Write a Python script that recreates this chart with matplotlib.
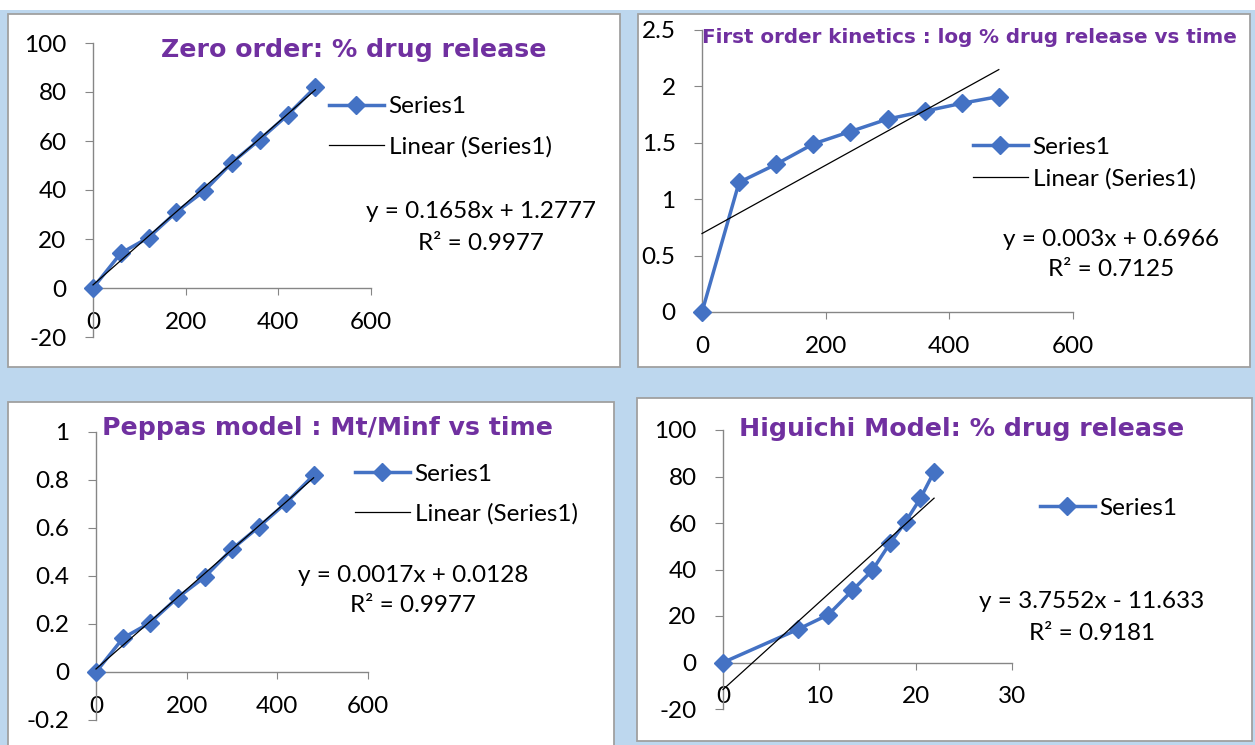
import matplotlib
matplotlib.use("Agg")
import matplotlib.pyplot as plt
from matplotlib.patches import Rectangle
import numpy as np

# data
time_min = [0, 60, 120, 180, 240, 300, 360, 420, 480]
pct_release = [0, 14.2, 20.6, 31, 39.6, 51.2, 60.6, 70.6, 82]
log_pct_release = [0, 1.15, 1.31, 1.49, 1.60, 1.71, 1.78, 1.85, 1.91]
mt_minf = [0, 0.142, 0.206, 0.31, 0.396, 0.512, 0.606, 0.706, 0.82]
sqrt_time = [0, 7.75, 10.95, 13.42, 15.49, 17.32, 18.97, 20.49, 21.91]

eq_text = ["y = 0.1658x + 1.2777", "y = 0.003x + 0.6966",
           "y = 0.0017x + 0.0128", "y = 3.7552x - 11.633"]
r2_text = ["R² = 0.9977", "R² = 0.7125", "R² = 0.9977", "R² = 0.9181"]
titles = ["Zero order: % drug release",
          "First order kinetics : log % drug release vs time",
          "Peppas model : Mt/Minf vs time",
          "Higuichi Model: % drug release"]

W, H = 1255, 745
BLUE = "#4472C4"
PURPLE = "#7030A0"
AXC = "#868686"
LBL = "Lato"
FS = 17.5

fig = plt.figure(figsize=(W / 100, H / 100), dpi=100, facecolor="#BDD7EE")


def fx(x):
    return x / W


def fy(y):
    return 1 - y / H


# white strip at the top and the four white panels
fig.add_artist(Rectangle((0, fy(10)), 1, 10 / H, transform=fig.transFigure,
                         facecolor="white", edgecolor="none", zorder=-2))
for (x0, y0, x1, y1) in [(8, 14, 620, 367), (638, 14, 1250, 367),
                         (8, 402, 614, 752), (637, 398, 1252, 741)]:
    fig.add_artist(Rectangle((fx(x0), fy(y1)), (x1 - x0) / W, (y1 - y0) / H,
                             transform=fig.transFigure, facecolor="white",
                             edgecolor="#A0A0A0", lw=1.3, zorder=-1))


def panel(box, x, y, xlim, ylim, xticks, yticks, title, title_pos, title_size,
          leg_pos, leg_sp, eq_pos, eq, r2, show_trend_legend=True):
    x0, x1, yt, yb = box
    ax = fig.add_axes([fx(x0), fy(yb), (x1 - x0) / W, (yb - yt) / H])
    ax.patch.set_alpha(0)
    ax.set_xlim(*xlim)
    ax.set_ylim(*ylim)
    for s in ["top", "right"]:
        ax.spines[s].set_visible(False)
    ax.spines["bottom"].set_position(("data", 0))
    for s in ["left", "bottom"]:
        ax.spines[s].set_color(AXC)
        ax.spines[s].set_linewidth(1)
    ax.set_xticks(xticks)
    ax.set_yticks(yticks)
    ax.set_xticklabels([f"{v:g}" for v in xticks], fontfamily=LBL, fontsize=FS)
    ax.set_yticklabels([f"{v:g}" for v in yticks], fontfamily=LBL, fontsize=FS)
    ax.tick_params(axis="x", direction="out", length=5, color=AXC, pad=12)
    ax.tick_params(axis="y", direction="out", length=6, color=AXC, pad=13)

    line, = ax.plot(x, y, color=BLUE, lw=2.5, marker="D", ms=9,
                    mec=BLUE, mfc=BLUE, clip_on=False, zorder=3, label="Series1")
    k, b = np.polyfit(x, y, 1)
    xs = np.array([x[0], x[-1]])
    trend, = ax.plot(xs, k * xs + b, color="black", lw=0.9, clip_on=False,
                     zorder=4, label="Linear (Series1)")

    handles = [line, trend] if show_trend_legend else [line]
    ax.legend(handles=handles, loc="center left",
              bbox_to_anchor=(fx(leg_pos[0]), fy(leg_pos[1])),
              bbox_transform=fig.transFigure, frameon=False, borderpad=0,
              borderaxespad=0, handlelength=2.25, handletextpad=0.2,
              labelspacing=leg_sp, prop={"family": LBL, "size": FS})

    fig.text(fx(title_pos[0]), fy(title_pos[1]), title, ha="center",
             va="baseline", color=PURPLE, fontsize=title_size,
             fontweight="bold", family="DejaVu Sans")
    fig.text(fx(eq_pos[0]), fy(eq_pos[1]), eq, ha="center", va="center",
             fontsize=FS, family=LBL)
    fig.text(fx(eq_pos[0]), fy(eq_pos[1] + 31), r2, ha="center", va="center",
             fontsize=FS, family=LBL)
    return ax


# Zero order
panel((93, 371, 43, 337), time_min, pct_release, (0, 600), (-20, 100),
      [0, 200, 400, 600], [-20, 0, 20, 40, 60, 80, 100],
      titles[0], (354, 57), 18.2, (329, 127), 0.78, (481, 212),
      eq_text[0], r2_text[0])

# First order
panel((702, 1073, 30, 312), time_min, log_pct_release, (0, 600), (0, 2.5),
      [0, 200, 400, 600], [0, 0.5, 1, 1.5, 2, 2.5],
      titles[1], (969, 43), 14.3, (973, 163), 0.42, (1111, 239),
      eq_text[1], r2_text[1])

# Peppas
panel((96, 368, 432, 720), time_min, mt_minf, (0, 600), (-0.2, 1),
      [0, 200, 400, 600], [-0.2, 0, 0.2, 0.4, 0.6, 0.8, 1],
      titles[2], (328, 435), 18.2, (355, 494), 0.75, (413, 575),
      eq_text[2], r2_text[2])

# Higuchi
panel((723, 1012, 430, 709), sqrt_time, pct_release, (0, 30), (-20, 100),
      [0, 10, 20, 30], [-20, 0, 20, 40, 60, 80, 100],
      titles[3], (962, 436), 18.2, (1040, 508), 0.45, (1092, 602),
      eq_text[3], r2_text[3], show_trend_legend=False)

fig.savefig("out.png", dpi=100, facecolor=fig.get_facecolor())
